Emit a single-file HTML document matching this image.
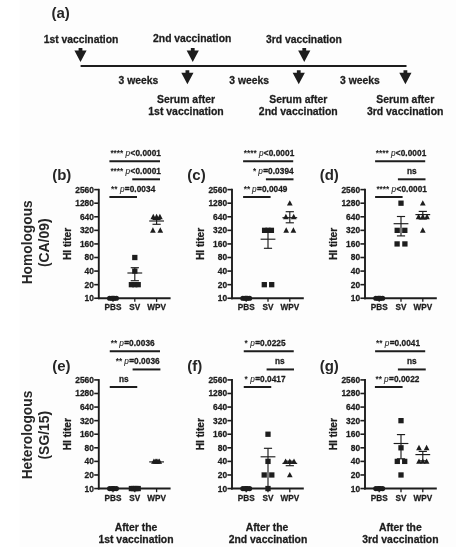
<!DOCTYPE html>
<html lang="en"><head><meta charset="utf-8"><title>HI titers after vaccination</title>
<style>
html,body{margin:0;padding:0;background:#fff;}
body{width:456px;height:550px;overflow:hidden;}
svg{display:block;filter:blur(0.4px);font-family:"Liberation Sans",Arial,Helvetica,sans-serif;fill:#1d1d1d;}
svg text{stroke:#1d1d1d;stroke-width:0.28px;stroke-linejoin:round;}
svg text tspan[font-style]{stroke-width:0.1px;}
svg text.L{stroke:none;fill:#262626;}
svg text.st{stroke:none;}
</style></head><body>
<svg width="456" height="550" viewBox="0 0 456 550">
<rect x="0" y="0" width="456" height="550" fill="#ffffff"/>
<rect x="19.5" y="0" width="436.5" height="547" fill="#fdfdfd"/>
<text x="51.5" y="18.1" font-size="15.0" text-anchor="start" font-weight="bold" class="L">(a)</text>
<text x="81" y="42.5" font-size="10.35" text-anchor="middle" font-weight="bold" >1st vaccination</text>
<text x="192.2" y="42.3" font-size="10.35" text-anchor="middle" font-weight="bold" >2nd vaccination</text>
<text x="303.9" y="42.5" font-size="10.35" text-anchor="middle" font-weight="bold" >3rd vaccination</text>
<line x1="80.6" y1="66" x2="406.5" y2="66" stroke="#1d1d1d" stroke-width="2"/>
<path d="M78.6 47.9 H82.4 V50.4 H86.6 L80.5 62.0 L74.4 50.4 H78.6 Z" fill="#1d1d1d"/>
<path d="M190.85 47.9 H194.65 V50.4 H198.85 L192.75 62.0 L186.65 50.4 H190.85 Z" fill="#1d1d1d"/>
<path d="M302.35 47.9 H306.15 V50.4 H310.35 L304.25 62.0 L298.15 50.4 H302.35 Z" fill="#1d1d1d"/>
<path d="M185.5 70.2 H189.3 V72.7 H193.5 L187.4 84.3 L181.3 72.7 H185.5 Z" fill="#1d1d1d"/>
<path d="M296.85 70.2 H300.65 V72.7 H304.85 L298.75 84.3 L292.65 72.7 H296.85 Z" fill="#1d1d1d"/>
<path d="M403.5 70.2 H407.29999999999995 V72.7 H411.5 L405.4 84.3 L399.29999999999995 72.7 H403.5 Z" fill="#1d1d1d"/>
<text x="118.5" y="83.6" font-size="10.35" text-anchor="start" font-weight="bold" >3 weeks</text>
<text x="229.25" y="83.6" font-size="10.35" text-anchor="start" font-weight="bold" >3 weeks</text>
<text x="340.1" y="83.6" font-size="10.35" text-anchor="start" font-weight="bold" >3 weeks</text>
<text x="186" y="102.9" font-size="10.45" text-anchor="middle" font-weight="bold" >Serum after</text>
<text x="186" y="114.9" font-size="10.45" text-anchor="middle" font-weight="bold" >1st vaccination</text>
<text x="298.3" y="102.9" font-size="10.45" text-anchor="middle" font-weight="bold" >Serum after</text>
<text x="298.3" y="114.9" font-size="10.45" text-anchor="middle" font-weight="bold" >2nd vaccination</text>
<text x="405.2" y="102.9" font-size="10.45" text-anchor="middle" font-weight="bold" >Serum after</text>
<text x="405.2" y="114.9" font-size="10.45" text-anchor="middle" font-weight="bold" >3rd vaccination</text>
<line x1="98.8" y1="188.81" x2="98.8" y2="299.15" stroke="#1d1d1d" stroke-width="1.9"/>
<line x1="97.89999999999999" y1="298.25" x2="170.6" y2="298.25" stroke="#1d1d1d" stroke-width="1.9"/>
<line x1="94.2" y1="189.61" x2="98.8" y2="189.61" stroke="#1d1d1d" stroke-width="1.6"/>
<text x="93.89999999999999" y="192.56" font-size="8.4" text-anchor="end" font-weight="bold" >2560</text>
<line x1="94.2" y1="203.19" x2="98.8" y2="203.19" stroke="#1d1d1d" stroke-width="1.6"/>
<text x="93.89999999999999" y="206.14" font-size="8.4" text-anchor="end" font-weight="bold" >1280</text>
<line x1="94.2" y1="216.76999999999998" x2="98.8" y2="216.76999999999998" stroke="#1d1d1d" stroke-width="1.6"/>
<text x="93.89999999999999" y="219.72" font-size="8.4" text-anchor="end" font-weight="bold" >640</text>
<line x1="94.2" y1="230.35" x2="98.8" y2="230.35" stroke="#1d1d1d" stroke-width="1.6"/>
<text x="93.89999999999999" y="233.3" font-size="8.4" text-anchor="end" font-weight="bold" >320</text>
<line x1="94.2" y1="243.93" x2="98.8" y2="243.93" stroke="#1d1d1d" stroke-width="1.6"/>
<text x="93.89999999999999" y="246.88" font-size="8.4" text-anchor="end" font-weight="bold" >160</text>
<line x1="94.2" y1="257.51" x2="98.8" y2="257.51" stroke="#1d1d1d" stroke-width="1.6"/>
<text x="93.89999999999999" y="260.46" font-size="8.4" text-anchor="end" font-weight="bold" >80</text>
<line x1="94.2" y1="271.09" x2="98.8" y2="271.09" stroke="#1d1d1d" stroke-width="1.6"/>
<text x="93.89999999999999" y="274.04" font-size="8.4" text-anchor="end" font-weight="bold" >40</text>
<line x1="94.2" y1="284.67" x2="98.8" y2="284.67" stroke="#1d1d1d" stroke-width="1.6"/>
<text x="93.89999999999999" y="287.62" font-size="8.4" text-anchor="end" font-weight="bold" >20</text>
<line x1="94.2" y1="298.25" x2="98.8" y2="298.25" stroke="#1d1d1d" stroke-width="1.6"/>
<text x="93.89999999999999" y="301.2" font-size="8.4" text-anchor="end" font-weight="bold" >10</text>
<line x1="113.0" y1="298.25" x2="113.0" y2="301.85" stroke="#1d1d1d" stroke-width="1.3"/>
<text x="113.0" y="310.35" font-size="8.2" text-anchor="middle" font-weight="bold" >PBS</text>
<line x1="134.8" y1="298.25" x2="134.8" y2="301.85" stroke="#1d1d1d" stroke-width="1.3"/>
<text x="134.8" y="310.35" font-size="8.2" text-anchor="middle" font-weight="bold" >SV</text>
<line x1="156.6" y1="298.25" x2="156.6" y2="301.85" stroke="#1d1d1d" stroke-width="1.3"/>
<text x="156.6" y="310.35" font-size="8.2" text-anchor="middle" font-weight="bold" >WPV</text>
<text transform="translate(71.19999999999999 243.93) rotate(-90)" font-size="10.2" text-anchor="middle" font-weight="bold">HI titer</text>
<text x="52.2" y="179.6" font-size="15.0" text-anchor="start" font-weight="bold" class="L">(b)</text>
<circle cx="109.6" cy="298.25" r="2.6" fill="#1d1d1d"/>
<circle cx="111.9" cy="298.25" r="2.6" fill="#1d1d1d"/>
<circle cx="114.1" cy="298.25" r="2.6" fill="#1d1d1d"/>
<circle cx="116.4" cy="298.25" r="2.6" fill="#1d1d1d"/>
<circle cx="113.0" cy="298.25" r="2.6" fill="#1d1d1d"/>
<rect x="132.15" y="254.86" width="5.3" height="5.3" fill="#1d1d1d"/>
<rect x="132.15" y="268.44" width="5.3" height="5.3" fill="#1d1d1d"/>
<rect x="128.75" y="282.02" width="5.3" height="5.3" fill="#1d1d1d"/>
<rect x="132.15" y="282.02" width="5.3" height="5.3" fill="#1d1d1d"/>
<rect x="135.55" y="282.02" width="5.3" height="5.3" fill="#1d1d1d"/>
<path d="M153.30 213.77 L156.15 219.17 H150.45 Z" fill="#1d1d1d"/>
<path d="M156.60 213.77 L159.45 219.17 H153.75 Z" fill="#1d1d1d"/>
<path d="M159.90 213.77 L162.75 219.17 H157.05 Z" fill="#1d1d1d"/>
<path d="M152.90 227.35 L155.75 232.75 H150.05 Z" fill="#1d1d1d"/>
<path d="M160.30 227.35 L163.15 232.75 H157.45 Z" fill="#1d1d1d"/>
<line x1="127.4" y1="273" x2="142.20000000000002" y2="273" stroke="#1d1d1d" stroke-width="1.15"/>
<line x1="134.8" y1="267.7" x2="134.8" y2="280.7" stroke="#1d1d1d" stroke-width="1.15"/>
<line x1="130.70000000000002" y1="280.7" x2="138.9" y2="280.7" stroke="#1d1d1d" stroke-width="1.15"/>
<line x1="130.70000000000002" y1="267.7" x2="138.9" y2="267.7" stroke="#1d1d1d" stroke-width="1.15"/>
<line x1="149.2" y1="221" x2="164.0" y2="221" stroke="#1d1d1d" stroke-width="1.15"/>
<line x1="156.6" y1="219.4" x2="156.6" y2="224.3" stroke="#1d1d1d" stroke-width="1.15"/>
<line x1="152.5" y1="224.3" x2="160.7" y2="224.3" stroke="#1d1d1d" stroke-width="1.15"/>
<line x1="152.5" y1="219.4" x2="160.7" y2="219.4" stroke="#1d1d1d" stroke-width="1.15"/>
<text class="st" x="110.4" y="156" font-size="8.25" font-weight="bold">****</text>
<text x="125.6" y="156" font-size="8.25" font-weight="bold"><tspan font-style="italic" font-weight="normal">p</tspan><tspan dx="0.35" letter-spacing="0.06">&lt;0.0001</tspan></text>
<line x1="109.4" y1="161.2" x2="160" y2="161.2" stroke="#1d1d1d" stroke-width="2.0"/>
<text class="st" x="110.4" y="174" font-size="8.25" font-weight="bold">****</text>
<text x="125.6" y="174" font-size="8.25" font-weight="bold"><tspan font-style="italic" font-weight="normal">p</tspan><tspan dx="0.35" letter-spacing="0.06">&lt;0.0001</tspan></text>
<line x1="132.25" y1="179.3" x2="160" y2="179.3" stroke="#1d1d1d" stroke-width="2.0"/>
<text class="st" x="111" y="191.5" font-size="8.25" font-weight="bold">**</text>
<text x="119.9" y="191.5" font-size="8.25" font-weight="bold"><tspan font-style="italic" font-weight="normal">p</tspan><tspan dx="0.35" letter-spacing="0.06">=0.0034</tspan></text>
<line x1="109.4" y1="197.0" x2="137" y2="197.0" stroke="#1d1d1d" stroke-width="2.0"/>
<line x1="232.0" y1="188.81" x2="232.0" y2="299.15" stroke="#1d1d1d" stroke-width="1.9"/>
<line x1="231.1" y1="298.25" x2="303.8" y2="298.25" stroke="#1d1d1d" stroke-width="1.9"/>
<line x1="227.4" y1="189.61" x2="232.0" y2="189.61" stroke="#1d1d1d" stroke-width="1.6"/>
<text x="227.1" y="192.56" font-size="8.4" text-anchor="end" font-weight="bold" >2560</text>
<line x1="227.4" y1="203.19" x2="232.0" y2="203.19" stroke="#1d1d1d" stroke-width="1.6"/>
<text x="227.1" y="206.14" font-size="8.4" text-anchor="end" font-weight="bold" >1280</text>
<line x1="227.4" y1="216.76999999999998" x2="232.0" y2="216.76999999999998" stroke="#1d1d1d" stroke-width="1.6"/>
<text x="227.1" y="219.72" font-size="8.4" text-anchor="end" font-weight="bold" >640</text>
<line x1="227.4" y1="230.35" x2="232.0" y2="230.35" stroke="#1d1d1d" stroke-width="1.6"/>
<text x="227.1" y="233.3" font-size="8.4" text-anchor="end" font-weight="bold" >320</text>
<line x1="227.4" y1="243.93" x2="232.0" y2="243.93" stroke="#1d1d1d" stroke-width="1.6"/>
<text x="227.1" y="246.88" font-size="8.4" text-anchor="end" font-weight="bold" >160</text>
<line x1="227.4" y1="257.51" x2="232.0" y2="257.51" stroke="#1d1d1d" stroke-width="1.6"/>
<text x="227.1" y="260.46" font-size="8.4" text-anchor="end" font-weight="bold" >80</text>
<line x1="227.4" y1="271.09" x2="232.0" y2="271.09" stroke="#1d1d1d" stroke-width="1.6"/>
<text x="227.1" y="274.04" font-size="8.4" text-anchor="end" font-weight="bold" >40</text>
<line x1="227.4" y1="284.67" x2="232.0" y2="284.67" stroke="#1d1d1d" stroke-width="1.6"/>
<text x="227.1" y="287.62" font-size="8.4" text-anchor="end" font-weight="bold" >20</text>
<line x1="227.4" y1="298.25" x2="232.0" y2="298.25" stroke="#1d1d1d" stroke-width="1.6"/>
<text x="227.1" y="301.2" font-size="8.4" text-anchor="end" font-weight="bold" >10</text>
<line x1="246.2" y1="298.25" x2="246.2" y2="301.85" stroke="#1d1d1d" stroke-width="1.3"/>
<text x="246.2" y="310.35" font-size="8.2" text-anchor="middle" font-weight="bold" >PBS</text>
<line x1="268.0" y1="298.25" x2="268.0" y2="301.85" stroke="#1d1d1d" stroke-width="1.3"/>
<text x="268.0" y="310.35" font-size="8.2" text-anchor="middle" font-weight="bold" >SV</text>
<line x1="289.8" y1="298.25" x2="289.8" y2="301.85" stroke="#1d1d1d" stroke-width="1.3"/>
<text x="289.8" y="310.35" font-size="8.2" text-anchor="middle" font-weight="bold" >WPV</text>
<text transform="translate(204.4 243.93) rotate(-90)" font-size="10.2" text-anchor="middle" font-weight="bold">HI titer</text>
<text x="187.29999999999998" y="179.6" font-size="15.0" text-anchor="start" font-weight="bold" class="L">(c)</text>
<circle cx="242.79999999999998" cy="298.25" r="2.6" fill="#1d1d1d"/>
<circle cx="245.1" cy="298.25" r="2.6" fill="#1d1d1d"/>
<circle cx="247.29999999999998" cy="298.25" r="2.6" fill="#1d1d1d"/>
<circle cx="249.6" cy="298.25" r="2.6" fill="#1d1d1d"/>
<circle cx="246.2" cy="298.25" r="2.6" fill="#1d1d1d"/>
<rect x="261.95" y="227.70" width="5.3" height="5.3" fill="#1d1d1d"/>
<rect x="265.35" y="227.70" width="5.3" height="5.3" fill="#1d1d1d"/>
<rect x="268.75" y="227.70" width="5.3" height="5.3" fill="#1d1d1d"/>
<rect x="261.65" y="282.02" width="5.3" height="5.3" fill="#1d1d1d"/>
<rect x="269.05" y="282.02" width="5.3" height="5.3" fill="#1d1d1d"/>
<path d="M289.80 200.19 L292.65 205.59 H286.95 Z" fill="#1d1d1d"/>
<path d="M285.90 213.77 L288.75 219.17 H283.05 Z" fill="#1d1d1d"/>
<path d="M293.70 213.77 L296.55 219.17 H290.85 Z" fill="#1d1d1d"/>
<path d="M286.20 227.35 L289.05 232.75 H283.35 Z" fill="#1d1d1d"/>
<path d="M293.40 227.35 L296.25 232.75 H290.55 Z" fill="#1d1d1d"/>
<line x1="260.6" y1="239.2" x2="275.4" y2="239.2" stroke="#1d1d1d" stroke-width="1.15"/>
<line x1="268.0" y1="230.5" x2="268.0" y2="248.3" stroke="#1d1d1d" stroke-width="1.15"/>
<line x1="263.9" y1="248.3" x2="272.1" y2="248.3" stroke="#1d1d1d" stroke-width="1.15"/>
<line x1="263.9" y1="230.5" x2="272.1" y2="230.5" stroke="#1d1d1d" stroke-width="1.15"/>
<line x1="282.40000000000003" y1="217.7" x2="297.2" y2="217.7" stroke="#1d1d1d" stroke-width="1.15"/>
<line x1="289.8" y1="211.7" x2="289.8" y2="222.8" stroke="#1d1d1d" stroke-width="1.15"/>
<line x1="285.7" y1="222.8" x2="293.90000000000003" y2="222.8" stroke="#1d1d1d" stroke-width="1.15"/>
<line x1="285.7" y1="211.7" x2="293.90000000000003" y2="211.7" stroke="#1d1d1d" stroke-width="1.15"/>
<text class="st" x="243.75" y="156" font-size="8.25" font-weight="bold">****</text>
<text x="258.9" y="156" font-size="8.25" font-weight="bold"><tspan font-style="italic" font-weight="normal">p</tspan><tspan dx="0.35" letter-spacing="0.06">&lt;0.0001</tspan></text>
<line x1="243.1" y1="161.2" x2="293.2" y2="161.2" stroke="#1d1d1d" stroke-width="2.0"/>
<text class="st" x="252.9" y="174" font-size="8.25" font-weight="bold">*</text>
<text x="258.3" y="174" font-size="8.25" font-weight="bold"><tspan font-style="italic" font-weight="normal">p</tspan><tspan dx="0.35" letter-spacing="0.06">=0.0394</tspan></text>
<line x1="265.9" y1="179.3" x2="293.5" y2="179.3" stroke="#1d1d1d" stroke-width="2.0"/>
<text class="st" x="243.75" y="191.5" font-size="8.25" font-weight="bold">**</text>
<text x="252.1" y="191.5" font-size="8.25" font-weight="bold"><tspan font-style="italic" font-weight="normal">p</tspan><tspan dx="0.35" letter-spacing="0.06">=0.0049</tspan></text>
<line x1="243.1" y1="197.0" x2="270.6" y2="197.0" stroke="#1d1d1d" stroke-width="2.0"/>
<line x1="365.0" y1="188.81" x2="365.0" y2="299.15" stroke="#1d1d1d" stroke-width="1.9"/>
<line x1="364.1" y1="298.25" x2="436.8" y2="298.25" stroke="#1d1d1d" stroke-width="1.9"/>
<line x1="360.4" y1="189.61" x2="365.0" y2="189.61" stroke="#1d1d1d" stroke-width="1.6"/>
<text x="360.1" y="192.56" font-size="8.4" text-anchor="end" font-weight="bold" >2560</text>
<line x1="360.4" y1="203.19" x2="365.0" y2="203.19" stroke="#1d1d1d" stroke-width="1.6"/>
<text x="360.1" y="206.14" font-size="8.4" text-anchor="end" font-weight="bold" >1280</text>
<line x1="360.4" y1="216.76999999999998" x2="365.0" y2="216.76999999999998" stroke="#1d1d1d" stroke-width="1.6"/>
<text x="360.1" y="219.72" font-size="8.4" text-anchor="end" font-weight="bold" >640</text>
<line x1="360.4" y1="230.35" x2="365.0" y2="230.35" stroke="#1d1d1d" stroke-width="1.6"/>
<text x="360.1" y="233.3" font-size="8.4" text-anchor="end" font-weight="bold" >320</text>
<line x1="360.4" y1="243.93" x2="365.0" y2="243.93" stroke="#1d1d1d" stroke-width="1.6"/>
<text x="360.1" y="246.88" font-size="8.4" text-anchor="end" font-weight="bold" >160</text>
<line x1="360.4" y1="257.51" x2="365.0" y2="257.51" stroke="#1d1d1d" stroke-width="1.6"/>
<text x="360.1" y="260.46" font-size="8.4" text-anchor="end" font-weight="bold" >80</text>
<line x1="360.4" y1="271.09" x2="365.0" y2="271.09" stroke="#1d1d1d" stroke-width="1.6"/>
<text x="360.1" y="274.04" font-size="8.4" text-anchor="end" font-weight="bold" >40</text>
<line x1="360.4" y1="284.67" x2="365.0" y2="284.67" stroke="#1d1d1d" stroke-width="1.6"/>
<text x="360.1" y="287.62" font-size="8.4" text-anchor="end" font-weight="bold" >20</text>
<line x1="360.4" y1="298.25" x2="365.0" y2="298.25" stroke="#1d1d1d" stroke-width="1.6"/>
<text x="360.1" y="301.2" font-size="8.4" text-anchor="end" font-weight="bold" >10</text>
<line x1="379.2" y1="298.25" x2="379.2" y2="301.85" stroke="#1d1d1d" stroke-width="1.3"/>
<text x="379.2" y="310.35" font-size="8.2" text-anchor="middle" font-weight="bold" >PBS</text>
<line x1="401.0" y1="298.25" x2="401.0" y2="301.85" stroke="#1d1d1d" stroke-width="1.3"/>
<text x="401.0" y="310.35" font-size="8.2" text-anchor="middle" font-weight="bold" >SV</text>
<line x1="422.8" y1="298.25" x2="422.8" y2="301.85" stroke="#1d1d1d" stroke-width="1.3"/>
<text x="422.8" y="310.35" font-size="8.2" text-anchor="middle" font-weight="bold" >WPV</text>
<text transform="translate(337.4 243.93) rotate(-90)" font-size="10.2" text-anchor="middle" font-weight="bold">HI titer</text>
<text x="319.7" y="179.6" font-size="15.0" text-anchor="start" font-weight="bold" class="L">(d)</text>
<circle cx="375.8" cy="298.25" r="2.6" fill="#1d1d1d"/>
<circle cx="378.09999999999997" cy="298.25" r="2.6" fill="#1d1d1d"/>
<circle cx="380.3" cy="298.25" r="2.6" fill="#1d1d1d"/>
<circle cx="382.59999999999997" cy="298.25" r="2.6" fill="#1d1d1d"/>
<circle cx="379.2" cy="298.25" r="2.6" fill="#1d1d1d"/>
<rect x="398.35" y="200.54" width="5.3" height="5.3" fill="#1d1d1d"/>
<rect x="394.55" y="227.70" width="5.3" height="5.3" fill="#1d1d1d"/>
<rect x="402.15" y="227.70" width="5.3" height="5.3" fill="#1d1d1d"/>
<rect x="394.45" y="241.28" width="5.3" height="5.3" fill="#1d1d1d"/>
<rect x="402.25" y="241.28" width="5.3" height="5.3" fill="#1d1d1d"/>
<path d="M422.80 200.19 L425.65 205.59 H419.95 Z" fill="#1d1d1d"/>
<path d="M418.60 213.77 L421.45 219.17 H415.75 Z" fill="#1d1d1d"/>
<path d="M422.80 213.77 L425.65 219.17 H419.95 Z" fill="#1d1d1d"/>
<path d="M427.00 213.77 L429.85 219.17 H424.15 Z" fill="#1d1d1d"/>
<path d="M422.80 227.35 L425.65 232.75 H419.95 Z" fill="#1d1d1d"/>
<line x1="393.6" y1="223.7" x2="408.4" y2="223.7" stroke="#1d1d1d" stroke-width="1.15"/>
<line x1="401.0" y1="216.5" x2="401.0" y2="235.9" stroke="#1d1d1d" stroke-width="1.15"/>
<line x1="396.9" y1="235.9" x2="405.1" y2="235.9" stroke="#1d1d1d" stroke-width="1.15"/>
<line x1="396.9" y1="216.5" x2="405.1" y2="216.5" stroke="#1d1d1d" stroke-width="1.15"/>
<line x1="415.40000000000003" y1="214.6" x2="430.2" y2="214.6" stroke="#1d1d1d" stroke-width="1.15"/>
<line x1="422.8" y1="211.4" x2="422.8" y2="219" stroke="#1d1d1d" stroke-width="1.15"/>
<line x1="418.7" y1="219" x2="426.90000000000003" y2="219" stroke="#1d1d1d" stroke-width="1.15"/>
<line x1="418.7" y1="211.4" x2="426.90000000000003" y2="211.4" stroke="#1d1d1d" stroke-width="1.15"/>
<text class="st" x="375.75" y="156" font-size="8.25" font-weight="bold">****</text>
<text x="390.9" y="156" font-size="8.25" font-weight="bold"><tspan font-style="italic" font-weight="normal">p</tspan><tspan dx="0.35" letter-spacing="0.06">&lt;0.0001</tspan></text>
<line x1="375.1" y1="161.2" x2="425.2" y2="161.2" stroke="#1d1d1d" stroke-width="2.0"/>
<text x="411.7" y="174" font-size="8.25" text-anchor="middle" font-weight="bold">ns</text>
<line x1="397.9" y1="179.3" x2="425.5" y2="179.3" stroke="#1d1d1d" stroke-width="2.0"/>
<text class="st" x="376.4" y="191.5" font-size="8.25" font-weight="bold">****</text>
<text x="391.6" y="191.5" font-size="8.25" font-weight="bold"><tspan font-style="italic" font-weight="normal">p</tspan><tspan dx="0.35" letter-spacing="0.06">&lt;0.0001</tspan></text>
<line x1="375.1" y1="197.0" x2="402.6" y2="197.0" stroke="#1d1d1d" stroke-width="2.0"/>
<line x1="98.8" y1="379.11" x2="98.8" y2="489.45" stroke="#1d1d1d" stroke-width="1.9"/>
<line x1="97.89999999999999" y1="488.55" x2="170.6" y2="488.55" stroke="#1d1d1d" stroke-width="1.9"/>
<line x1="94.2" y1="379.91" x2="98.8" y2="379.91" stroke="#1d1d1d" stroke-width="1.6"/>
<text x="93.89999999999999" y="382.86" font-size="8.4" text-anchor="end" font-weight="bold" >2560</text>
<line x1="94.2" y1="393.49" x2="98.8" y2="393.49" stroke="#1d1d1d" stroke-width="1.6"/>
<text x="93.89999999999999" y="396.44" font-size="8.4" text-anchor="end" font-weight="bold" >1280</text>
<line x1="94.2" y1="407.07" x2="98.8" y2="407.07" stroke="#1d1d1d" stroke-width="1.6"/>
<text x="93.89999999999999" y="410.02" font-size="8.4" text-anchor="end" font-weight="bold" >640</text>
<line x1="94.2" y1="420.65" x2="98.8" y2="420.65" stroke="#1d1d1d" stroke-width="1.6"/>
<text x="93.89999999999999" y="423.6" font-size="8.4" text-anchor="end" font-weight="bold" >320</text>
<line x1="94.2" y1="434.23" x2="98.8" y2="434.23" stroke="#1d1d1d" stroke-width="1.6"/>
<text x="93.89999999999999" y="437.18" font-size="8.4" text-anchor="end" font-weight="bold" >160</text>
<line x1="94.2" y1="447.81" x2="98.8" y2="447.81" stroke="#1d1d1d" stroke-width="1.6"/>
<text x="93.89999999999999" y="450.76" font-size="8.4" text-anchor="end" font-weight="bold" >80</text>
<line x1="94.2" y1="461.39" x2="98.8" y2="461.39" stroke="#1d1d1d" stroke-width="1.6"/>
<text x="93.89999999999999" y="464.34" font-size="8.4" text-anchor="end" font-weight="bold" >40</text>
<line x1="94.2" y1="474.97" x2="98.8" y2="474.97" stroke="#1d1d1d" stroke-width="1.6"/>
<text x="93.89999999999999" y="477.92" font-size="8.4" text-anchor="end" font-weight="bold" >20</text>
<line x1="94.2" y1="488.55" x2="98.8" y2="488.55" stroke="#1d1d1d" stroke-width="1.6"/>
<text x="93.89999999999999" y="491.5" font-size="8.4" text-anchor="end" font-weight="bold" >10</text>
<line x1="113.0" y1="488.55" x2="113.0" y2="492.15000000000003" stroke="#1d1d1d" stroke-width="1.3"/>
<text x="113.0" y="500.65000000000003" font-size="8.2" text-anchor="middle" font-weight="bold" >PBS</text>
<line x1="134.8" y1="488.55" x2="134.8" y2="492.15000000000003" stroke="#1d1d1d" stroke-width="1.3"/>
<text x="134.8" y="500.65000000000003" font-size="8.2" text-anchor="middle" font-weight="bold" >SV</text>
<line x1="156.6" y1="488.55" x2="156.6" y2="492.15000000000003" stroke="#1d1d1d" stroke-width="1.3"/>
<text x="156.6" y="500.65000000000003" font-size="8.2" text-anchor="middle" font-weight="bold" >WPV</text>
<text transform="translate(71.19999999999999 434.23) rotate(-90)" font-size="10.2" text-anchor="middle" font-weight="bold">HI titer</text>
<text x="52.2" y="370.6" font-size="15.0" text-anchor="start" font-weight="bold" class="L">(e)</text>
<circle cx="109.6" cy="488.55" r="2.6" fill="#1d1d1d"/>
<circle cx="111.9" cy="488.55" r="2.6" fill="#1d1d1d"/>
<circle cx="114.1" cy="488.55" r="2.6" fill="#1d1d1d"/>
<circle cx="116.4" cy="488.55" r="2.6" fill="#1d1d1d"/>
<circle cx="113.0" cy="488.55" r="2.6" fill="#1d1d1d"/>
<rect x="128.75" y="485.90" width="5.3" height="5.3" fill="#1d1d1d"/>
<rect x="131.05" y="485.90" width="5.3" height="5.3" fill="#1d1d1d"/>
<rect x="133.25" y="485.90" width="5.3" height="5.3" fill="#1d1d1d"/>
<rect x="135.55" y="485.90" width="5.3" height="5.3" fill="#1d1d1d"/>
<path d="M153.90 458.39 L156.75 463.79 H151.05 Z" fill="#1d1d1d"/>
<path d="M155.25 458.39 L158.10 463.79 H152.40 Z" fill="#1d1d1d"/>
<path d="M156.60 458.39 L159.45 463.79 H153.75 Z" fill="#1d1d1d"/>
<path d="M157.95 458.39 L160.80 463.79 H155.10 Z" fill="#1d1d1d"/>
<path d="M159.30 458.39 L162.15 463.79 H156.45 Z" fill="#1d1d1d"/>
<line x1="149.2" y1="461.9" x2="164.0" y2="461.9" stroke="#1d1d1d" stroke-width="1.15"/>
<text class="st" x="110.75" y="345.6" font-size="8.25" font-weight="bold">**</text>
<text x="119.3" y="345.6" font-size="8.25" font-weight="bold"><tspan font-style="italic" font-weight="normal">p</tspan><tspan dx="0.35" letter-spacing="0.06">=0.0036</tspan></text>
<line x1="109.75" y1="351.2" x2="160" y2="351.2" stroke="#1d1d1d" stroke-width="2.0"/>
<text class="st" x="115.75" y="363.75" font-size="8.25" font-weight="bold">**</text>
<text x="124.3" y="363.75" font-size="8.25" font-weight="bold"><tspan font-style="italic" font-weight="normal">p</tspan><tspan dx="0.35" letter-spacing="0.06">=0.0036</tspan></text>
<line x1="132.6" y1="369.45" x2="160.4" y2="369.45" stroke="#1d1d1d" stroke-width="2.0"/>
<text x="123.7" y="382.25" font-size="8.25" text-anchor="middle" font-weight="bold">ns</text>
<line x1="109.75" y1="387.0" x2="137.25" y2="387.0" stroke="#1d1d1d" stroke-width="2.0"/>
<line x1="232.0" y1="379.11" x2="232.0" y2="489.45" stroke="#1d1d1d" stroke-width="1.9"/>
<line x1="231.1" y1="488.55" x2="303.8" y2="488.55" stroke="#1d1d1d" stroke-width="1.9"/>
<line x1="227.4" y1="379.91" x2="232.0" y2="379.91" stroke="#1d1d1d" stroke-width="1.6"/>
<text x="227.1" y="382.86" font-size="8.4" text-anchor="end" font-weight="bold" >2560</text>
<line x1="227.4" y1="393.49" x2="232.0" y2="393.49" stroke="#1d1d1d" stroke-width="1.6"/>
<text x="227.1" y="396.44" font-size="8.4" text-anchor="end" font-weight="bold" >1280</text>
<line x1="227.4" y1="407.07" x2="232.0" y2="407.07" stroke="#1d1d1d" stroke-width="1.6"/>
<text x="227.1" y="410.02" font-size="8.4" text-anchor="end" font-weight="bold" >640</text>
<line x1="227.4" y1="420.65" x2="232.0" y2="420.65" stroke="#1d1d1d" stroke-width="1.6"/>
<text x="227.1" y="423.6" font-size="8.4" text-anchor="end" font-weight="bold" >320</text>
<line x1="227.4" y1="434.23" x2="232.0" y2="434.23" stroke="#1d1d1d" stroke-width="1.6"/>
<text x="227.1" y="437.18" font-size="8.4" text-anchor="end" font-weight="bold" >160</text>
<line x1="227.4" y1="447.81" x2="232.0" y2="447.81" stroke="#1d1d1d" stroke-width="1.6"/>
<text x="227.1" y="450.76" font-size="8.4" text-anchor="end" font-weight="bold" >80</text>
<line x1="227.4" y1="461.39" x2="232.0" y2="461.39" stroke="#1d1d1d" stroke-width="1.6"/>
<text x="227.1" y="464.34" font-size="8.4" text-anchor="end" font-weight="bold" >40</text>
<line x1="227.4" y1="474.97" x2="232.0" y2="474.97" stroke="#1d1d1d" stroke-width="1.6"/>
<text x="227.1" y="477.92" font-size="8.4" text-anchor="end" font-weight="bold" >20</text>
<line x1="227.4" y1="488.55" x2="232.0" y2="488.55" stroke="#1d1d1d" stroke-width="1.6"/>
<text x="227.1" y="491.5" font-size="8.4" text-anchor="end" font-weight="bold" >10</text>
<line x1="246.2" y1="488.55" x2="246.2" y2="492.15000000000003" stroke="#1d1d1d" stroke-width="1.3"/>
<text x="246.2" y="500.65000000000003" font-size="8.2" text-anchor="middle" font-weight="bold" >PBS</text>
<line x1="268.0" y1="488.55" x2="268.0" y2="492.15000000000003" stroke="#1d1d1d" stroke-width="1.3"/>
<text x="268.0" y="500.65000000000003" font-size="8.2" text-anchor="middle" font-weight="bold" >SV</text>
<line x1="289.8" y1="488.55" x2="289.8" y2="492.15000000000003" stroke="#1d1d1d" stroke-width="1.3"/>
<text x="289.8" y="500.65000000000003" font-size="8.2" text-anchor="middle" font-weight="bold" >WPV</text>
<text transform="translate(204.4 434.23) rotate(-90)" font-size="10.2" text-anchor="middle" font-weight="bold">HI titer</text>
<text x="187.2" y="370.6" font-size="15.0" text-anchor="start" font-weight="bold" class="L">(f)</text>
<circle cx="242.79999999999998" cy="488.55" r="2.6" fill="#1d1d1d"/>
<circle cx="245.1" cy="488.55" r="2.6" fill="#1d1d1d"/>
<circle cx="247.29999999999998" cy="488.55" r="2.6" fill="#1d1d1d"/>
<circle cx="249.6" cy="488.55" r="2.6" fill="#1d1d1d"/>
<circle cx="246.2" cy="488.55" r="2.6" fill="#1d1d1d"/>
<rect x="265.35" y="431.58" width="5.3" height="5.3" fill="#1d1d1d"/>
<rect x="265.35" y="458.74" width="5.3" height="5.3" fill="#1d1d1d"/>
<rect x="261.55" y="472.32" width="5.3" height="5.3" fill="#1d1d1d"/>
<rect x="269.15" y="472.32" width="5.3" height="5.3" fill="#1d1d1d"/>
<rect x="265.35" y="485.90" width="5.3" height="5.3" fill="#1d1d1d"/>
<path d="M285.60 458.39 L288.45 463.79 H282.75 Z" fill="#1d1d1d"/>
<path d="M289.80 458.39 L292.65 463.79 H286.95 Z" fill="#1d1d1d"/>
<path d="M294.00 458.39 L296.85 463.79 H291.15 Z" fill="#1d1d1d"/>
<path d="M289.80 471.97 L292.65 477.37 H286.95 Z" fill="#1d1d1d"/>
<line x1="260.6" y1="456.8" x2="275.4" y2="456.8" stroke="#1d1d1d" stroke-width="1.15"/>
<line x1="268.0" y1="448.3" x2="268.0" y2="488" stroke="#1d1d1d" stroke-width="1.15"/>
<line x1="263.9" y1="448.3" x2="272.1" y2="448.3" stroke="#1d1d1d" stroke-width="1.15"/>
<line x1="282.40000000000003" y1="463.4" x2="297.2" y2="463.4" stroke="#1d1d1d" stroke-width="1.15"/>
<line x1="289.8" y1="461.2" x2="289.8" y2="465.7" stroke="#1d1d1d" stroke-width="1.15"/>
<line x1="285.7" y1="465.7" x2="293.90000000000003" y2="465.7" stroke="#1d1d1d" stroke-width="1.15"/>
<line x1="285.7" y1="461.2" x2="293.90000000000003" y2="461.2" stroke="#1d1d1d" stroke-width="1.15"/>
<text class="st" x="244.4" y="345.6" font-size="8.25" font-weight="bold">*</text>
<text x="250.2" y="345.6" font-size="8.25" font-weight="bold"><tspan font-style="italic" font-weight="normal">p</tspan><tspan dx="0.35" letter-spacing="0.06">=0.0225</tspan></text>
<line x1="243.75" y1="351.2" x2="293.75" y2="351.2" stroke="#1d1d1d" stroke-width="2.0"/>
<text x="279.9" y="364.4" font-size="8.25" text-anchor="middle" font-weight="bold">ns</text>
<line x1="266.6" y1="369.45" x2="294" y2="369.45" stroke="#1d1d1d" stroke-width="2.0"/>
<text class="st" x="244.4" y="381.8" font-size="8.25" font-weight="bold">*</text>
<text x="250.2" y="381.8" font-size="8.25" font-weight="bold"><tspan font-style="italic" font-weight="normal">p</tspan><tspan dx="0.35" letter-spacing="0.06">=0.0417</tspan></text>
<line x1="243.75" y1="387.0" x2="271.25" y2="387.0" stroke="#1d1d1d" stroke-width="2.0"/>
<line x1="365.0" y1="379.11" x2="365.0" y2="489.45" stroke="#1d1d1d" stroke-width="1.9"/>
<line x1="364.1" y1="488.55" x2="436.8" y2="488.55" stroke="#1d1d1d" stroke-width="1.9"/>
<line x1="360.4" y1="379.91" x2="365.0" y2="379.91" stroke="#1d1d1d" stroke-width="1.6"/>
<text x="360.1" y="382.86" font-size="8.4" text-anchor="end" font-weight="bold" >2560</text>
<line x1="360.4" y1="393.49" x2="365.0" y2="393.49" stroke="#1d1d1d" stroke-width="1.6"/>
<text x="360.1" y="396.44" font-size="8.4" text-anchor="end" font-weight="bold" >1280</text>
<line x1="360.4" y1="407.07" x2="365.0" y2="407.07" stroke="#1d1d1d" stroke-width="1.6"/>
<text x="360.1" y="410.02" font-size="8.4" text-anchor="end" font-weight="bold" >640</text>
<line x1="360.4" y1="420.65" x2="365.0" y2="420.65" stroke="#1d1d1d" stroke-width="1.6"/>
<text x="360.1" y="423.6" font-size="8.4" text-anchor="end" font-weight="bold" >320</text>
<line x1="360.4" y1="434.23" x2="365.0" y2="434.23" stroke="#1d1d1d" stroke-width="1.6"/>
<text x="360.1" y="437.18" font-size="8.4" text-anchor="end" font-weight="bold" >160</text>
<line x1="360.4" y1="447.81" x2="365.0" y2="447.81" stroke="#1d1d1d" stroke-width="1.6"/>
<text x="360.1" y="450.76" font-size="8.4" text-anchor="end" font-weight="bold" >80</text>
<line x1="360.4" y1="461.39" x2="365.0" y2="461.39" stroke="#1d1d1d" stroke-width="1.6"/>
<text x="360.1" y="464.34" font-size="8.4" text-anchor="end" font-weight="bold" >40</text>
<line x1="360.4" y1="474.97" x2="365.0" y2="474.97" stroke="#1d1d1d" stroke-width="1.6"/>
<text x="360.1" y="477.92" font-size="8.4" text-anchor="end" font-weight="bold" >20</text>
<line x1="360.4" y1="488.55" x2="365.0" y2="488.55" stroke="#1d1d1d" stroke-width="1.6"/>
<text x="360.1" y="491.5" font-size="8.4" text-anchor="end" font-weight="bold" >10</text>
<line x1="379.2" y1="488.55" x2="379.2" y2="492.15000000000003" stroke="#1d1d1d" stroke-width="1.3"/>
<text x="379.2" y="500.65000000000003" font-size="8.2" text-anchor="middle" font-weight="bold" >PBS</text>
<line x1="401.0" y1="488.55" x2="401.0" y2="492.15000000000003" stroke="#1d1d1d" stroke-width="1.3"/>
<text x="401.0" y="500.65000000000003" font-size="8.2" text-anchor="middle" font-weight="bold" >SV</text>
<line x1="422.8" y1="488.55" x2="422.8" y2="492.15000000000003" stroke="#1d1d1d" stroke-width="1.3"/>
<text x="422.8" y="500.65000000000003" font-size="8.2" text-anchor="middle" font-weight="bold" >WPV</text>
<text transform="translate(337.4 434.23) rotate(-90)" font-size="10.2" text-anchor="middle" font-weight="bold">HI titer</text>
<text x="319.7" y="370.6" font-size="15.0" text-anchor="start" font-weight="bold" class="L">(g)</text>
<circle cx="375.8" cy="488.55" r="2.6" fill="#1d1d1d"/>
<circle cx="378.09999999999997" cy="488.55" r="2.6" fill="#1d1d1d"/>
<circle cx="380.3" cy="488.55" r="2.6" fill="#1d1d1d"/>
<circle cx="382.59999999999997" cy="488.55" r="2.6" fill="#1d1d1d"/>
<circle cx="379.2" cy="488.55" r="2.6" fill="#1d1d1d"/>
<rect x="398.35" y="418.00" width="5.3" height="5.3" fill="#1d1d1d"/>
<rect x="398.35" y="445.16" width="5.3" height="5.3" fill="#1d1d1d"/>
<rect x="394.65" y="458.74" width="5.3" height="5.3" fill="#1d1d1d"/>
<rect x="402.05" y="458.74" width="5.3" height="5.3" fill="#1d1d1d"/>
<rect x="398.35" y="472.32" width="5.3" height="5.3" fill="#1d1d1d"/>
<path d="M419.00 444.81 L421.85 450.21 H416.15 Z" fill="#1d1d1d"/>
<path d="M426.60 444.81 L429.45 450.21 H423.75 Z" fill="#1d1d1d"/>
<path d="M419.00 458.39 L421.85 463.79 H416.15 Z" fill="#1d1d1d"/>
<path d="M422.80 458.39 L425.65 463.79 H419.95 Z" fill="#1d1d1d"/>
<path d="M426.60 458.39 L429.45 463.79 H423.75 Z" fill="#1d1d1d"/>
<line x1="393.6" y1="443.5" x2="408.4" y2="443.5" stroke="#1d1d1d" stroke-width="1.15"/>
<line x1="401.0" y1="434.6" x2="401.0" y2="458.8" stroke="#1d1d1d" stroke-width="1.15"/>
<line x1="396.9" y1="458.8" x2="405.1" y2="458.8" stroke="#1d1d1d" stroke-width="1.15"/>
<line x1="396.9" y1="434.6" x2="405.1" y2="434.6" stroke="#1d1d1d" stroke-width="1.15"/>
<line x1="415.40000000000003" y1="454.6" x2="430.2" y2="454.6" stroke="#1d1d1d" stroke-width="1.15"/>
<line x1="422.8" y1="451.4" x2="422.8" y2="460.8" stroke="#1d1d1d" stroke-width="1.15"/>
<line x1="418.7" y1="460.8" x2="426.90000000000003" y2="460.8" stroke="#1d1d1d" stroke-width="1.15"/>
<line x1="418.7" y1="451.4" x2="426.90000000000003" y2="451.4" stroke="#1d1d1d" stroke-width="1.15"/>
<text class="st" x="376.1" y="345.6" font-size="8.25" font-weight="bold">**</text>
<text x="384.7" y="345.6" font-size="8.25" font-weight="bold"><tspan font-style="italic" font-weight="normal">p</tspan><tspan dx="0.35" letter-spacing="0.06">=0.0041</tspan></text>
<line x1="375.1" y1="351.2" x2="425.2" y2="351.2" stroke="#1d1d1d" stroke-width="2.0"/>
<text x="411.7" y="364.2" font-size="8.25" text-anchor="middle" font-weight="bold">ns</text>
<line x1="397.9" y1="369.45" x2="425.75" y2="369.45" stroke="#1d1d1d" stroke-width="2.0"/>
<text class="st" x="375.6" y="381.6" font-size="8.25" font-weight="bold">**</text>
<text x="384.1" y="381.6" font-size="8.25" font-weight="bold"><tspan font-style="italic" font-weight="normal">p</tspan><tspan dx="0.35" letter-spacing="0.06">=0.0022</tspan></text>
<line x1="374.9" y1="387.0" x2="402.6" y2="387.0" stroke="#1d1d1d" stroke-width="2.0"/>
<text class="L" transform="translate(31.9 242.3) rotate(-90)" font-size="13.75" text-anchor="middle" font-weight="bold">Homologous</text>
<text class="L" transform="translate(49.2 242.8) rotate(-90)" font-size="13.9" text-anchor="middle" font-weight="bold">(CA/09)</text>
<text class="L" transform="translate(31.9 435.0) rotate(-90)" font-size="13.75" text-anchor="middle" font-weight="bold">Heterologous</text>
<text class="L" transform="translate(49.2 435.2) rotate(-90)" font-size="13.9" text-anchor="middle" font-weight="bold">(SG/15)</text>
<text x="136" y="530.9" font-size="10.4" text-anchor="middle" font-weight="bold" >After the</text>
<text x="136" y="543.4" font-size="10.4" text-anchor="middle" font-weight="bold" >1st vaccination</text>
<text x="267.0" y="530.9" font-size="10.4" text-anchor="middle" font-weight="bold" >After the</text>
<text x="268.0" y="543.4" font-size="10.4" text-anchor="middle" font-weight="bold" >2nd vaccination</text>
<text x="400.4" y="530.9" font-size="10.4" text-anchor="middle" font-weight="bold" >After the</text>
<text x="400.4" y="543.4" font-size="10.4" text-anchor="middle" font-weight="bold" >3rd vaccination</text>
</svg>
</body></html>
